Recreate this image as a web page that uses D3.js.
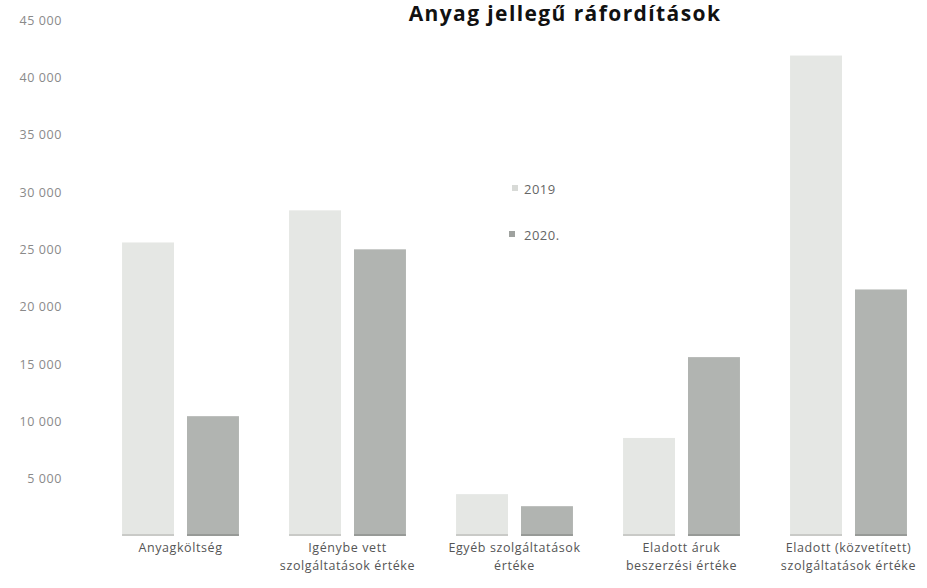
<!DOCTYPE html>
<html>
<head>
<meta charset="utf-8">
<script src="https://cdn.jsdelivr.net/npm/d3@7/dist/d3.min.js"></script>
<style>
  html, body { margin: 0; padding: 0; background: #fff; }
  svg { display: block; }
</style>
</head>
<body>
<svg id="chart" width="927" height="588"></svg>
<script>
const title = "Anyag jellegű ráfordítások";
const categories = [
  ["Anyagköltség"],
  ["Igénybe vett", "szolgáltatások értéke"],
  ["Egyéb szolgáltatások", "értéke"],
  ["Eladott áruk", "beszerzési értéke"],
  ["Eladott (közvetített)", "szolgáltatások értéke"]
];
const seriesNames = ["2019", "2020."];
const values2019 = [25600, 28400, 3650, 8550, 41900];
const values2020 = [10450, 25000, 2600, 15600, 21500];
const yTicks = [5000, 10000, 15000, 20000, 25000, 30000, 35000, 40000, 45000];
const colors = ["#e5e7e4", "#b1b4b1"];

const svg = d3.select("#chart");
const catKeys = categories.map(c => c.join(" "));
const seriesValues = [values2019, values2020];

const y = d3.scaleLinear().domain([0, 45000]).range([536, 20]);
const x = d3.scaleBand().domain(catKeys).range([97, 932]).paddingInner(0.3).paddingOuter(0.15);
const xs = d3.scaleBand().domain(seriesNames).range([0, x.bandwidth()]).paddingInner(0.2);

// Title
svg.append("text")
  .attr("x", 565).attr("y", 21)
  .attr("text-anchor", "middle")
  .attr("font-family", "'Open Sans', sans-serif")
  .attr("font-weight", "bold")
  .attr("font-size", 21)
  .attr("letter-spacing", 1.4)
  .attr("fill", "#111")
  .text(title);

// Y axis
const yAxis = d3.axisLeft(y).tickValues(yTicks).tickSize(0).tickPadding(0)
  .tickFormat(d => d3.format(",")(d).replace(/,/g, " "));
const ga = svg.append("g").attr("transform", "translate(62,0)").call(yAxis);
ga.select(".domain").remove();
ga.selectAll("text")
  .attr("font-family", "'Open Sans', sans-serif")
  .attr("font-size", 12.5)
  .attr("letter-spacing", 0.6)
  .attr("fill", "#8a8a8a");

// Bars
const groups = svg.append("g").selectAll("g")
  .data(catKeys)
  .join("g")
  .attr("transform", d => `translate(${x(d)},0)`);

groups.selectAll("rect")
  .data((d, i) => seriesNames.map((s, j) => ({ s, j, v: seriesValues[j][i] })))
  .join("rect")
  .attr("x", d => xs(d.s))
  .attr("width", xs.bandwidth())
  .attr("y", d => y(d.v))
  .attr("height", d => y(0) - y(d.v))
  .attr("fill", d => colors[d.j]);

groups.selectAll("line.edge")
  .data(seriesNames.map((s, j) => ({ s, j })))
  .join("line")
  .attr("class", "edge")
  .attr("x1", d => xs(d.s)).attr("x2", d => xs(d.s) + xs.bandwidth())
  .attr("y1", y(0) - 1).attr("y2", y(0) - 1)
  .attr("stroke", d => d.j === 0 ? "#bfc1be" : "#8f928f")
  .attr("stroke-width", 1.5);

// Category labels
const lab = svg.append("g").selectAll("text")
  .data(categories)
  .join("text")
  .attr("x", (d, i) => x(catKeys[i]) + x.bandwidth() / 2)
  .attr("y", 552)
  .attr("text-anchor", "middle")
  .attr("font-family", "'Open Sans', sans-serif")
  .attr("font-size", 12.5)
  .attr("letter-spacing", 0.6)
  .attr("fill", "#555");
lab.selectAll("tspan")
  .data(d => d)
  .join("tspan")
  .attr("x", function () { return d3.select(this.parentNode).attr("x"); })
  .attr("dy", (d, i) => i === 0 ? 0 : 18)
  .text(d => d);

// Legend
const legendY = [189, 235];
const leg = svg.append("g").selectAll("g")
  .data(seriesNames)
  .join("g")
  .attr("transform", (d, i) => `translate(511,${legendY[i]})`);
leg.append("rect")
  .attr("x", (d, i) => i === 0 ? 1 : -2).attr("y", -4)
  .attr("width", 6).attr("height", 6)
  .attr("fill", (d, i) => i === 0 ? "#d8dad7" : "#9fa29f");
leg.append("text")
  .attr("x", 13).attr("y", 0).attr("dy", "0.35em")
  .attr("font-family", "'Open Sans', sans-serif")
  .attr("font-size", 13)
  .attr("letter-spacing", 0.5)
  .attr("fill", "#666")
  .text(d => d);
</script>
</body>
</html>
